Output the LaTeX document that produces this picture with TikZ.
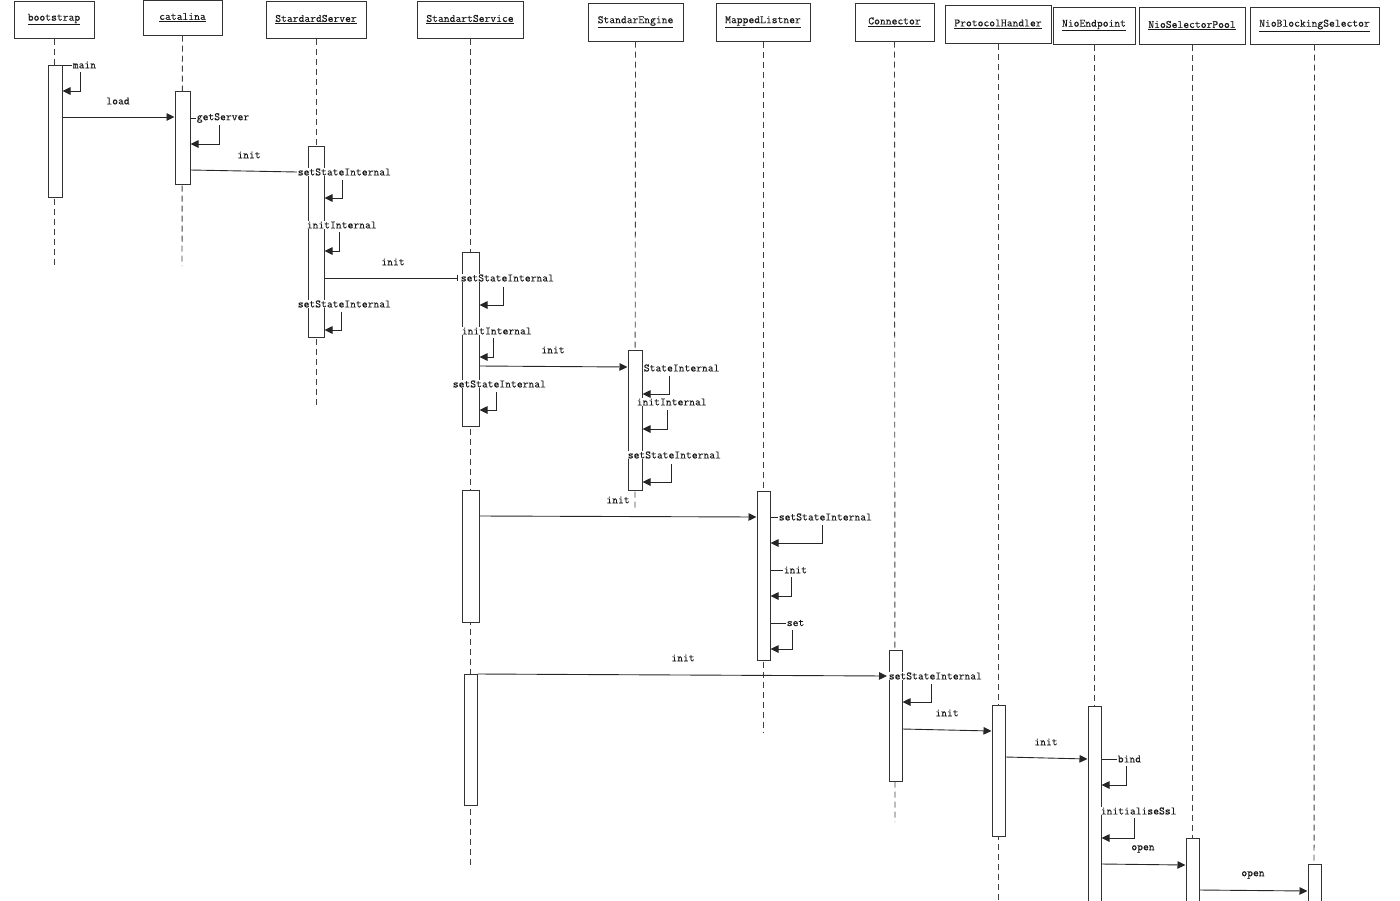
\documentclass[tikz,border=0pt]{standalone}
\usepackage{fontspec}
\newfontfamily\lmono{Latin Modern Mono}[FakeBold=0.12]
\newcommand\lf{\fontsize{11.3pt}{12pt}\lmono}
\usetikzlibrary{arrows.meta}
\begin{document}
\begin{tikzpicture}[x=1pt,y=-1pt,
  head/.style={draw=black!80, line width=1pt, inner sep=0pt, font=\lf, text=black!90},
  life/.style={draw=black!75, line width=0.9pt, dash pattern=on 6pt off 4pt},
  act/.style={draw=black!80, fill=white, line width=1pt, inner sep=0pt},
  msg/.style={draw=black!85, line width=0.9pt, -{Triangle[length=8pt,width=7.5pt]}},
  tick/.style={draw=black!85, line width=0.9pt},
  bar/.style={draw=black!85, line width=0.9pt, -{Bar[width=6pt]}},
  lbl/.style={font=\lf, inner sep=0.6pt, fill=white, text=black!90},
]
\useasboundingbox (0,0) rectangle (1400,900);
\clip (0,0) rectangle (1400,900);

% headers
\node[head, minimum width=80pt, minimum height=37pt] (hA) at (54,19.5) {\underline{bootstrap}};
\node[head, minimum width=79pt, minimum height=35pt] (hB) at (182.5,17.5) {\underline{catalina}};
\node[head, minimum width=100pt, minimum height=37pt] (hC) at (316,19.5) {\underline{StardardServer}};
\node[head, minimum width=106pt, minimum height=37pt] (hD) at (470,19.5) {\underline{StandartService}};
\node[head, minimum width=95pt, minimum height=38pt] (hE) at (635.5,22) {\underline{StandarEngine}};
\node[head, minimum width=94pt, minimum height=38pt] (hF) at (763,22) {\underline{MappedListner}};
\node[head, minimum width=79pt, minimum height=38pt] (hG) at (894.5,22) {\underline{Connector}};
\node[head, minimum width=106pt, minimum height=38pt] (hH) at (998,24) {\underline{ProtocolHandler}};
\node[head, minimum width=82pt, minimum height=37pt] (hI) at (1094,25.5) {\underline{NioEndpoint}};
\node[head, minimum width=106pt, minimum height=37pt] (hJ) at (1192,25.5) {\underline{NioSelectorPool}};
\node[head, minimum width=129pt, minimum height=37pt] (hK) at (1314.5,25.5) {\underline{NioBlockingSelector}};

% lifeline ends
\coordinate (eA) at (54,266);
\coordinate (eB) at (182,266);
\coordinate (eC) at (316,408);
\coordinate (eD) at (470,865);
\coordinate (eE) at (635,508);
\coordinate (eF) at (763,732);
\coordinate (eG) at (895,822);
\coordinate (eH) at (998,905);
\coordinate (eI) at (1094,905);
\coordinate (eJ) at (1192,905);
\coordinate (eK) at (1314,905);
\foreach \h/\e in {hA/eA,hB/eB,hC/eC,hD/eD,hE/eE,hF/eF,hG/eG,hH/eH,hI/eI,hJ/eJ,hK/eK}
  \draw[life] (\h.south) -- (\e);

% activations
\node[act, minimum width=14pt, minimum height=132pt] (aA) at (55,131) {};
\node[act, minimum width=15pt, minimum height=93pt] (aB) at (182.5,137.5) {};
\node[act, minimum width=16pt, minimum height=191pt] (aC) at (316,241.5) {};
\node[act, minimum width=17pt, minimum height=174pt] (aD1) at (470.5,339) {};
\node[act, minimum width=17pt, minimum height=132pt] (aD2) at (470.5,556) {};
\node[act, minimum width=13pt, minimum height=131pt] (aD3) at (470.5,739.5) {};
\node[act, minimum width=14pt, minimum height=140pt] (aE) at (635,420) {};
\node[act, minimum width=13pt, minimum height=169pt] (aF) at (763.5,575.5) {};
\node[act, minimum width=13pt, minimum height=131pt] (aG) at (895.5,715.5) {};
\node[act, minimum width=13pt, minimum height=131pt] (aH) at (998.5,770.5) {};
\node[act, minimum width=13pt, minimum height=204pt] (aI) at (1094.5,808) {};
\node[act, minimum width=13pt, minimum height=72pt] (aJ) at (1192.5,874) {};
\node[act, minimum width=13pt, minimum height=46pt] (aK) at (1314.5,887) {};

% ---- bootstrap
\coordinate (cmain) at (80,72);
\draw[tick] (aA.east |- 0,65) -- (72,65);
\draw[msg] (cmain) |- (aA.east |- 0,91);
\node[lbl, anchor=west] (lmain) at (72,65) {main};

\draw[msg] (aA.east |- 0,117) -- (aB.west |- 0,117);
\node[lbl] (lload) at (118,101) {load};

% ---- catalina
\coordinate (cgs) at (219,125);
\draw[tick] (aB.east |- 0,118) -- (196,118);
\draw[msg] (cgs) |- (aB.east |- 0,144);
\node[lbl, anchor=west] (lgs) at (196,118) {getServer};

\coordinate (cinit1) at (297,172);
\draw[tick] (aB.east |- 0,170) -- (cinit1);
\node[lbl] (linit1) at (249,155) {init};

% ---- StardardServer
\coordinate (cC1) at (342,180);
\draw[msg] (cC1) |- (aC.east |- 0,198);
\node[lbl, anchor=west] (lC1) at (297,172) {setStateInternal};
\coordinate (cC2) at (339,232);
\draw[msg] (cC2) |- (aC.east |- 0,251);
\node[lbl, anchor=west] (lC2) at (306,225) {initInternal};

\coordinate (cinit2) at (458,278);
\draw[bar] (aC.east |- 0,278) -- (cinit2);
\node[lbl] (linit2) at (393,262) {init};

\coordinate (cC3) at (341,312);
\draw[msg] (cC3) |- (aC.east |- 0,330);
\node[lbl, anchor=west] (lC3) at (297,304) {setStateInternal};

% ---- StandartService
\coordinate (cD1) at (503,287);
\draw[msg] (cD1) |- (aD1.east |- 0,305);
\node[lbl, anchor=west] (lD1) at (460,278) {setStateInternal};
\coordinate (cD2) at (493,338);
\draw[msg] (cD2) |- (aD1.east |- 0,357);
\node[lbl, anchor=west] (lD2) at (461,331) {initInternal};

\draw[msg] (aD1.east |- 0,366) -- (aE.west |- 0,367);
\node[lbl] (linit3) at (553,350) {init};

\coordinate (cD3) at (496,392);
\draw[msg] (cD3) |- (aD1.east |- 0,410);
\node[lbl, anchor=west] (lD3) at (452,384) {setStateInternal};

% ---- StandarEngine
\coordinate (cE1) at (669,376);
\draw[msg] (cE1) |- (aE.east |- 0,394);
\node[lbl, anchor=west] (lE1) at (643,368) {StateInternal};
\coordinate (cE2) at (667,410);
\draw[msg] (cE2) |- (aE.east |- 0,429);
\node[lbl, anchor=west] (lE2) at (636,402) {initInternal};
\coordinate (cE3) at (671,464);
\draw[msg] (cE3) |- (aE.east |- 0,482);
\node[lbl, anchor=west] (lE3) at (627,455) {setStateInternal};

\node[lbl] (linit4) at (618,500) {init};
\draw[msg] (aD2.east |- 0,516) -- (aF.west |- 0,517);

% ---- MappedListner
\coordinate (cF1) at (822,525);
\draw[tick] (aF.east |- 0,517) -- (778,517);
\draw[msg] (cF1) |- (aF.east |- 0,543);
\node[lbl, anchor=west] (lF1) at (778,517) {setStateInternal};
\coordinate (cF2) at (791,577);
\draw[tick] (aF.east |- 0,570) -- (783,570);
\draw[msg] (cF2) |- (aF.east |- 0,596);
\node[lbl, anchor=west] (lF2) at (783,570) {init};
\coordinate (cF3) at (792,630);
\draw[tick] (aF.east |- 0,623) -- (786,623);
\draw[msg] (cF3) |- (aF.east |- 0,649);
\node[lbl, anchor=west] (lF3) at (786,623) {set};

% ---- to Connector
\coordinate (cinit5) at (887,676);
\draw[msg] (aD3.east |- 0,674) -- (cinit5);
\node[lbl] (linit5) at (683,658) {init};

\coordinate (cG1) at (931,684);
\draw[msg] (cG1) |- (aG.east |- 0,702);
\node[lbl, anchor=west] (lG1) at (888,676) {setStateInternal};

\draw[msg] (aG.east |- 0,729) -- (aH.west |- 0,731);
\node[lbl] (linit6) at (947,713) {init};

\draw[msg] (aH.east |- 0,757) -- (aI.west |- 0,759);
\node[lbl] (linit7) at (1046,742) {init};

% ---- NioEndpoint
\coordinate (cI1) at (1126,766);
\draw[tick] (aI.east |- 0,759) -- (1117,759);
\draw[msg] (cI1) |- (aI.east |- 0,785);
\node[lbl, anchor=west] (lI1) at (1117,759) {bind};
\coordinate (cI2) at (1134,818);
\draw[msg] (cI2) |- (aI.east |- 0,838);
\node[lbl, anchor=west] (lI2) at (1100,811) {initialiseSsl};

\draw[msg] (aI.east |- 0,864) -- (aJ.west |- 0,865);
\node[lbl] (lopen1) at (1143,849) {open};
\draw[msg] (aJ.east |- 0,890) -- (aK.west |- 0,891);
\node[lbl] (lopen2) at (1253,875) {open};
\end{tikzpicture}
\end{document}
